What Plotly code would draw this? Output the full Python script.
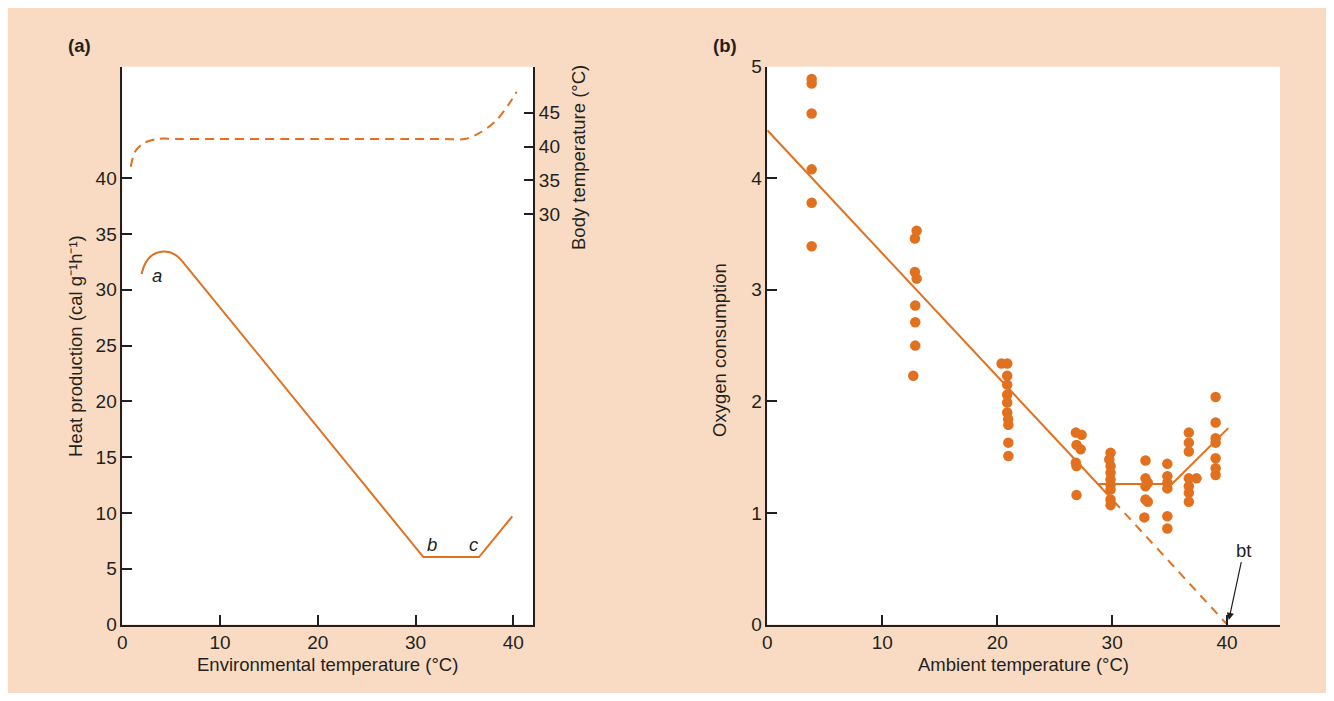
import plotly.graph_objects as go

# ---------------- data ----------------
# Panel (a): heat production curve (left axis)
heat_arc_x = [1.98, 2.32, 3.0, 4.37, 5.39, 6.08]
heat_arc_y = [31.42, 32.32, 33.07, 33.43, 33.16, 32.62]
heat_line_x = [6.08, 30.8, 36.5, 39.9]
heat_line_y = [32.62, 6.05, 6.05, 9.70]
# Panel (a): body temperature (right axis, dashed)
body_x = [0.86, 1.30, 2.15, 3.52, 6.0, 10.0, 20.0, 30.0, 33.0, 35.06, 36.77, 38.30, 39.49, 40.35]
body_y = [37.03, 39.24, 40.48, 41.12, 41.12, 41.12, 41.12, 41.12, 41.12, 41.12, 42.19, 43.92, 46.14, 48.10]
heat_ticks = [0, 5, 10, 15, 20, 25, 30, 35, 40]
body_ticks = [30, 35, 40, 45]
env_ticks = [0, 10, 20, 30, 40]

# Panel (b): oxygen consumption observations
o2_x = [3.86, 3.86, 3.86, 3.86, 3.86, 3.86,
        12.99, 12.84, 12.84, 12.99, 12.87, 12.87, 12.87, 12.70,
        20.38, 20.87, 20.87, 20.87, 20.87, 20.87, 20.87, 20.95, 20.97, 20.97, 20.97,
        26.84, 27.34, 26.90, 27.26, 26.84, 26.90, 26.90,
        29.86, 29.75, 29.86, 29.86, 29.86, 29.86, 29.86, 29.86, 29.86,
        32.90, 32.90, 33.10, 32.90, 32.90, 33.10, 32.80,
        34.80, 34.80, 34.80, 34.80, 34.80, 34.80,
        36.67, 36.67, 36.67, 36.67, 37.34, 36.67, 36.67, 36.67,
        39.00, 39.00, 39.00, 39.00, 39.00, 39.00, 39.00]
o2_y = [4.89, 4.85, 4.58, 4.08, 3.78, 3.39,
        3.53, 3.46, 3.16, 3.10, 2.86, 2.71, 2.50, 2.23,
        2.34, 2.34, 2.23, 2.15, 2.06, 1.99, 1.90, 1.84, 1.79, 1.63, 1.51,
        1.72, 1.70, 1.61, 1.57, 1.45, 1.42, 1.16,
        1.54, 1.48, 1.42, 1.36, 1.30, 1.25, 1.21, 1.12, 1.07,
        1.47, 1.31, 1.27, 1.24, 1.12, 1.10, 0.96,
        1.44, 1.33, 1.27, 1.22, 0.97, 0.86,
        1.72, 1.63, 1.55, 1.31, 1.31, 1.24, 1.18, 1.10,
        2.04, 1.81, 1.67, 1.63, 1.49, 1.40, 1.34]
# Panel (b): fitted lines
cold_x = [0.0, 29.2]
cold_y = [4.43, 1.21]
extrap_x = [29.2, 40.0]
extrap_y = [1.21, 0.0]
tnz_x = [28.8, 35.2, 40.1]
tnz_y = [1.26, 1.26, 1.76]
amb_ticks = [0, 10, 20, 30, 40]
o2_ticks = [0, 1, 2, 3, 4, 5]

# ---------------- style ----------------
ORANGE = "#E2711F"
PEACH = "#F9DBC3"
INK = "#231F20"
FONT = "Arial, Liberation Sans, sans-serif"
FS = 18.5
TFS = 19
W, H = 1318, 685
OFF = 8


def px(x):
    return (x - OFF) / W


def py(y):
    return 1 - (y - OFF) / H


fig = go.Figure()

fig.add_trace(go.Scatter(x=heat_arc_x, y=heat_arc_y, mode="lines",
                         line=dict(color=ORANGE, width=2, shape="spline"),
                         xaxis="x", yaxis="y", showlegend=False))
fig.add_trace(go.Scatter(x=heat_line_x, y=heat_line_y, mode="lines",
                         line=dict(color=ORANGE, width=2),
                         xaxis="x", yaxis="y", showlegend=False))
fig.add_trace(go.Scatter(x=body_x, y=body_y, mode="lines",
                         line=dict(color=ORANGE, width=2, dash="9px,6px",
                                   shape="spline", smoothing=0.8),
                         xaxis="x", yaxis="y2", showlegend=False))

fig.add_trace(go.Scatter(x=cold_x, y=cold_y, mode="lines",
                         line=dict(color=ORANGE, width=2),
                         xaxis="x3", yaxis="y3", showlegend=False))
fig.add_trace(go.Scatter(x=extrap_x, y=extrap_y, mode="lines",
                         line=dict(color=ORANGE, width=2, dash="9px,7px"),
                         xaxis="x3", yaxis="y3", showlegend=False))
fig.add_trace(go.Scatter(x=tnz_x, y=tnz_y, mode="lines",
                         line=dict(color=ORANGE, width=2),
                         xaxis="x3", yaxis="y3", showlegend=False))
fig.add_trace(go.Scatter(x=o2_x, y=o2_y, mode="markers",
                         marker=dict(color=ORANGE, size=10.5, line=dict(width=0)),
                         xaxis="x3", yaxis="y3", showlegend=False))

axis_common = dict(showgrid=False, zeroline=False, showline=True, linecolor=INK,
                   linewidth=1.5, ticks="inside", ticklen=10, tickwidth=1.5,
                   automargin=False,
                   tickcolor=INK, tickfont=dict(family=FONT, size=TFS, color=INK))

ydom = [py(624.5), py(66.7)]

fig.update_layout(
    width=W, height=H,
    margin=dict(l=0, r=0, t=0, b=0),
    paper_bgcolor=PEACH, plot_bgcolor="white",
    xaxis=dict(domain=[px(122.3), px(533.3)], range=[0, 42.05],
               tickvals=env_ticks, anchor="y", **axis_common),
    yaxis=dict(domain=ydom, range=[0, 50], tickvals=heat_ticks,
               anchor="x", **axis_common),
    yaxis2=dict(overlaying="y", side="right", anchor="x", range=[-30.53, 51.79],
                tickvals=body_ticks, **axis_common),
    xaxis3=dict(domain=[px(767.3), px(1280)], range=[0, 44.6],
                tickvals=amb_ticks, anchor="y3", **axis_common),
    yaxis3=dict(domain=ydom, range=[0, 5], tickvals=o2_ticks,
                anchor="x3", **axis_common),
)

ann = []


def label(text, x, y, angle=0, bold=False, italic=False):
    t = text
    if bold:
        t = "<b>" + t + "</b>"
    if italic:
        t = "<i>" + t + "</i>"
    ann.append(dict(text=t, x=px(x), y=py(y), xref="paper", yref="paper",
                    xanchor="center", yanchor="middle", textangle=angle,
                    showarrow=False, font=dict(family=FONT, size=FS, color=INK)))


label("(a)", 79, 46, bold=True)
label("(b)", 725, 46, bold=True)
label("Heat production (cal g⁻¹h⁻¹)", 75, 346, angle=-90)
label("Body temperature (°C)", 579, 158, angle=-90)
label("Environmental temperature (°C)", 327, 664)
label("Oxygen consumption", 720, 350, angle=-90)
label("Ambient temperature (°C)", 1023, 664)

for t, xv, yv in [("a", 3.5, 31.3), ("b", 31.7, 7.2), ("c", 36.0, 7.2)]:
    ann.append(dict(text="<i>" + t + "</i>", x=xv, y=yv, xref="x", yref="y",
                    showarrow=False, font=dict(family=FONT, size=FS, color=INK)))

ann.append(dict(text="bt", x=40.15, y=0.04, xref="x3", yref="y3",
                showarrow=True, ax=15, ay=-70, arrowhead=2, arrowsize=1.2,
                arrowwidth=1.2, arrowcolor=INK,
                font=dict(family=FONT, size=FS, color=INK)))

fig.update_layout(annotations=ann)

fig.write_html("out.html")
